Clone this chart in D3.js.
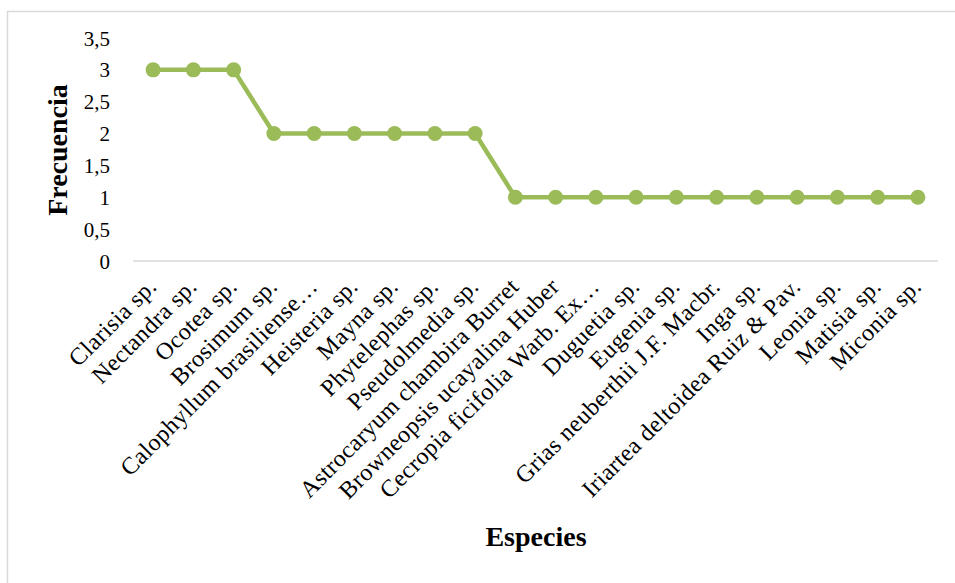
<!DOCTYPE html>
<html>
<head>
<meta charset="utf-8">
<script src="https://cdn.jsdelivr.net/npm/d3@7"></script>
<style>
  html, body { margin: 0; padding: 0; background: #fff; }
  svg { display: block; }
</style>
</head>
<body>
<svg id="chart" width="955" height="583"></svg>
<script>
const categories = [
  "Clarisia sp.", "Nectandra sp.", "Ocotea sp.", "Brosimum sp.",
  "Calophyllum brasiliense…", "Heisteria sp.", "Mayna sp.", "Phytelephas sp.",
  "Pseudolmedia sp.", "Astrocaryum chambira Burret", "Browneopsis ucayalina Huber",
  "Cecropia ficifolia Warb. Ex…", "Duguetia sp.", "Eugenia sp.",
  "Grias neuberthii J.F. Macbr.", "Inga sp.", "Iriartea deltoidea Ruiz & Pav.",
  "Leonia sp.", "Matisia sp.", "Miconia sp."
];
const frecuencia = [3, 3, 3, 2, 2, 2, 2, 2, 2, 1, 1, 1, 1, 1, 1, 1, 1, 1, 1, 1];
const yTicks = [0, 0.5, 1, 1.5, 2, 2.5, 3, 3.5];
const yTitle = "Frecuencia";
const xTitle = "Especies";

const svg = d3.select("#chart");
const plot = { left: 133, right: 938, top: 38, bottom: 261 };
const serif = "'Liberation Serif', 'Times New Roman', serif";

// outer chart border
svg.append("rect")
  .attr("x", 7.5).attr("y", 11.5)
  .attr("width", 1000).attr("height", 700)
  .attr("fill", "#fff").attr("stroke", "#D9D9D9").attr("stroke-width", 1.5);

const x = d3.scaleBand().domain(categories).range([plot.left, plot.right]);
const y = d3.scaleLinear().domain([0, 3.5]).range([plot.bottom, plot.top]);

const fmt = v => String(v).replace(".", ",");

// y axis labels (no line)
const yAxis = d3.axisLeft(y).tickValues(yTicks).tickFormat(fmt).tickSize(0).tickPadding(0);
const yG = svg.append("g").attr("transform", `translate(110,0)`).call(yAxis);
yG.select(".domain").remove();
yG.selectAll("text")
  .attr("font-family", serif)
  .attr("font-size", 21)
  .attr("fill", "#000")
  .attr("dy", "0.34em");

// x axis line
svg.append("line")
  .attr("x1", plot.left).attr("x2", plot.right)
  .attr("y1", plot.bottom).attr("y2", plot.bottom)
  .attr("stroke", "#D9D9D9").attr("stroke-width", 1.5);

// category labels
svg.append("g").selectAll("text")
  .data(categories)
  .join("text")
  .attr("transform", d => `translate(${x(d) + x.bandwidth() / 2 + 5},288) rotate(-45)`)
  .attr("text-anchor", "end")
  .attr("font-family", serif)
  .attr("font-size", 24)
  .attr("letter-spacing", 0.4)
  .attr("fill", "#000")
  .text(d => d);

// line
const pts = categories.map((c, i) => [x(c) + x.bandwidth() / 2, y(frecuencia[i])]);
svg.append("path")
  .attr("d", d3.line()(pts))
  .attr("fill", "none")
  .attr("stroke", "#9BBB59")
  .attr("stroke-width", 4.5)
  .attr("stroke-linejoin", "round");

svg.append("g").selectAll("circle")
  .data(pts)
  .join("circle")
  .attr("cx", d => d[0]).attr("cy", d => d[1])
  .attr("r", 7.5)
  .attr("fill", "#9BBB59");

// axis titles
svg.append("text")
  .attr("transform", "translate(67,150) rotate(-90)")
  .attr("text-anchor", "middle")
  .attr("font-family", serif)
  .attr("font-weight", "bold")
  .attr("font-size", 28)
  .attr("fill", "#000")
  .text(yTitle);

svg.append("text")
  .attr("x", 536).attr("y", 546)
  .attr("text-anchor", "middle")
  .attr("font-family", serif)
  .attr("font-weight", "bold")
  .attr("font-size", 28)
  .attr("fill", "#000")
  .text(xTitle);
</script>
</body>
</html>
